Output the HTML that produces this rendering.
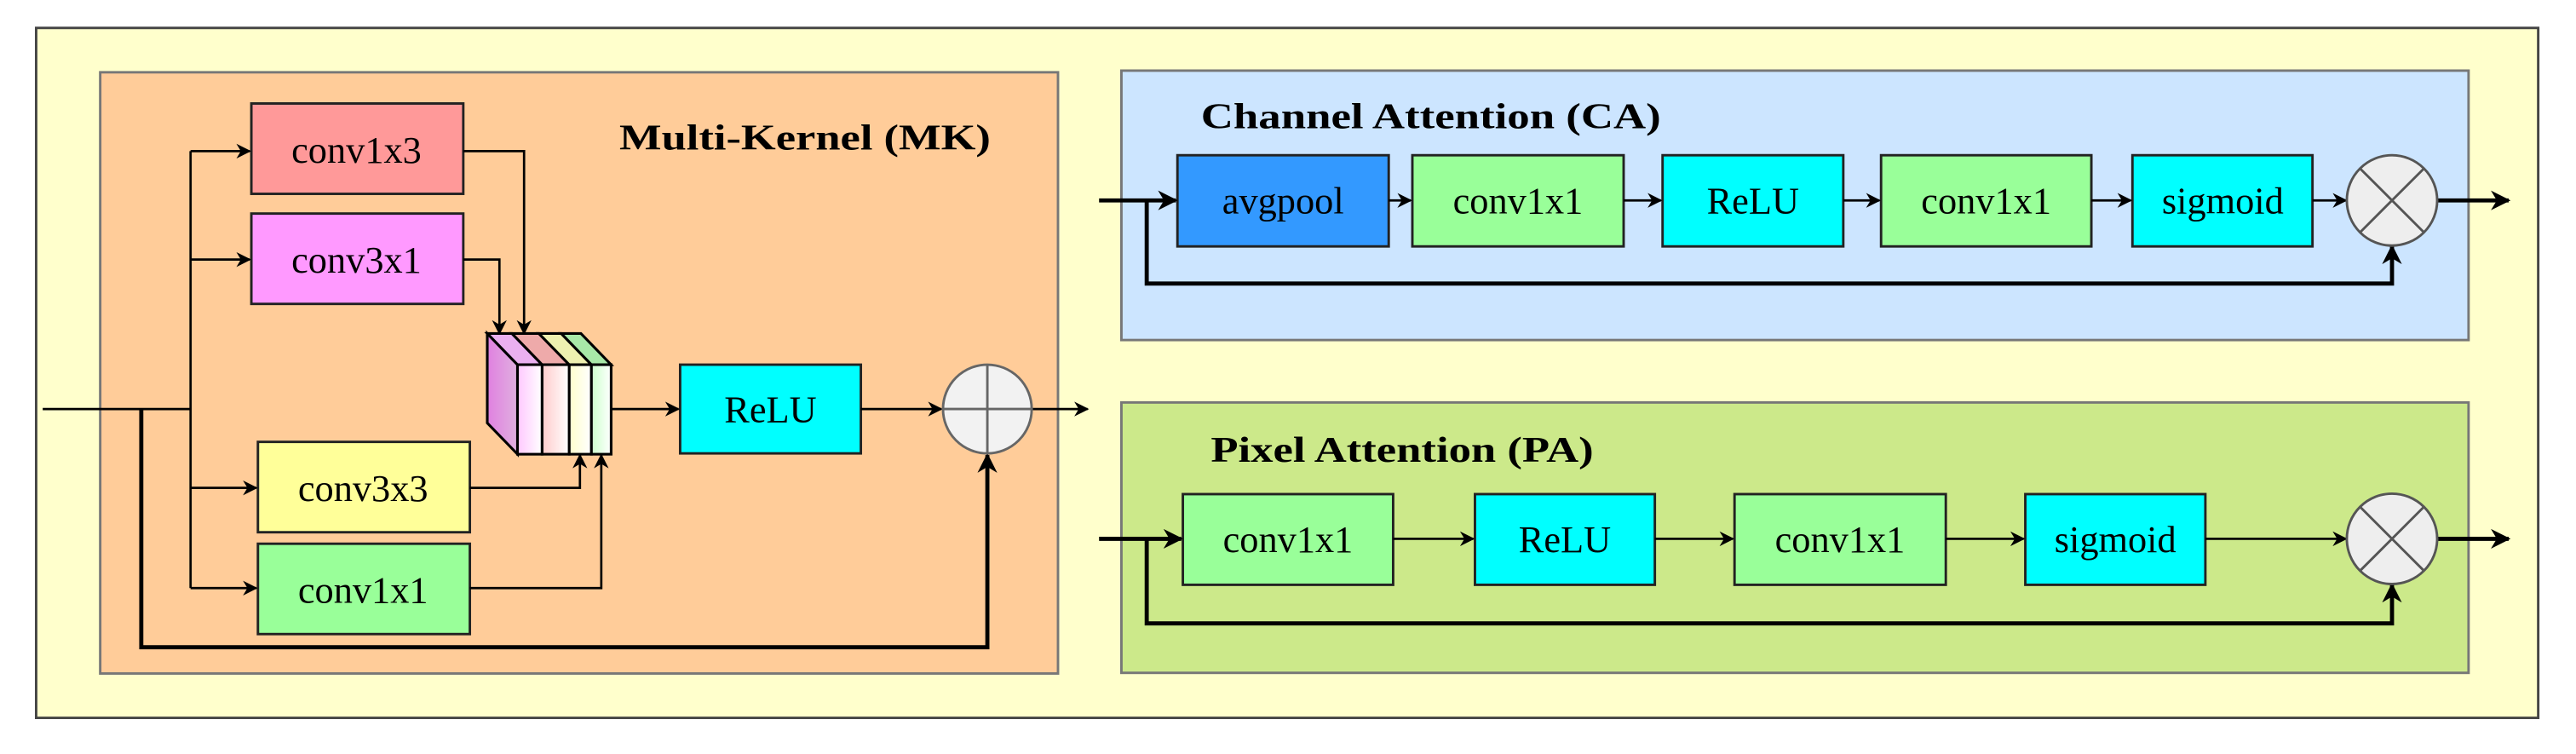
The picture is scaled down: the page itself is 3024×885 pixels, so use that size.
<!DOCTYPE html>
<html><head><meta charset="utf-8"><style>html,body{margin:0;padding:0;background:#fff}svg{display:block}</style></head>
<body>
<svg width="3024" height="885" viewBox="0 0 1568 459" preserveAspectRatio="none" xmlns="http://www.w3.org/2000/svg" font-family="Liberation Serif, serif">
<defs>
<marker id="a" viewBox="0 0 10 10" refX="9" refY="5" markerWidth="9" markerHeight="9" markerUnits="userSpaceOnUse" orient="auto"><path d="M0,0 L10,5 L0,10 L3,5 z" fill="#000"/></marker>
<marker id="b" viewBox="0 0 10 10" refX="9" refY="5" markerWidth="12" markerHeight="12" markerUnits="userSpaceOnUse" orient="auto"><path d="M0,0 L10,5 L0,10 L3,5 z" fill="#000"/></marker>
<linearGradient id="g1" x1="0" x2="1"><stop offset="0" stop-color="#ffc8ff"/><stop offset="1" stop-color="#fff"/></linearGradient>
<linearGradient id="g2" x1="0" x2="1"><stop offset="0" stop-color="#ffcccc"/><stop offset="1" stop-color="#fff"/></linearGradient>
<linearGradient id="g3" x1="0" x2="1"><stop offset="0" stop-color="#ffffcc"/><stop offset="1" stop-color="#fff"/></linearGradient>
<linearGradient id="g4" x1="0" x2="1"><stop offset="0" stop-color="#ccffcc"/><stop offset="1" stop-color="#fff"/></linearGradient>
<linearGradient id="g5" x1="0" x2="1"><stop offset="0" stop-color="#e080e0"/><stop offset="1" stop-color="#e0b0e0"/></linearGradient>
</defs>
<rect x="22" y="17" width="1523" height="420" fill="#ffffcc" stroke="#444" stroke-width="1.5"/>
<!-- MK -->
<rect x="61" y="44" width="583" height="366" fill="#ffcc99" stroke="#777" stroke-width="1.5"/>
<text x="377" y="91" font-size="22" font-weight="bold" textLength="226" lengthAdjust="spacingAndGlyphs">Multi-Kernel (MK)</text>
<g stroke="#222" stroke-width="1.5">
<rect x="153" y="63" width="129" height="55" fill="#ff9999"/>
<rect x="153" y="130" width="129" height="55" fill="#ff99ff"/>
<rect x="157" y="269" width="129" height="55" fill="#ffff99"/>
<rect x="157" y="331" width="129" height="55" fill="#99ff99"/>
<rect x="414" y="222" width="110" height="54" fill="#00ffff"/>
</g>
<g font-size="23" text-anchor="middle">
<text x="217" y="99">conv1x3</text>
<text x="217" y="166">conv3x1</text>
<text x="221" y="305">conv3x3</text>
<text x="221" y="367">conv1x1</text>
<text x="469" y="257">ReLU</text>
</g>
<g fill="none" stroke="#000" stroke-width="1.4">
<path d="M26,249 H116"/>
<path d="M116,92 V358"/>
<path d="M116,92 H152" marker-end="url(#a)"/>
<path d="M116,158 H152" marker-end="url(#a)"/>
<path d="M116,297 H156" marker-end="url(#a)"/>
<path d="M116,358 H156" marker-end="url(#a)"/>
<path d="M282,92 H319 V203" marker-end="url(#a)"/>
<path d="M282,158 H304 V203" marker-end="url(#a)"/>
<path d="M286,297 H353 V277" marker-end="url(#a)"/>
<path d="M286,358 H366 V277" marker-end="url(#a)"/>
<path d="M372,249 H413" marker-end="url(#a)"/>
<path d="M524,249 H573" marker-end="url(#a)"/>
<path d="M628,249 H662" marker-end="url(#a)"/>
</g>
<path d="M86,249 V394 H601 V277" fill="none" stroke="#000" stroke-width="2.5" marker-end="url(#b)"/>
<!-- concat block -->
<g stroke="#000" stroke-width="1.6">
<polygon points="296.6,203 315,222 315,276.5 296.6,257.5" fill="url(#g5)"/>
<polygon points="296.6,203 311.6,203 330,222 315,222" fill="#eab0f0"/>
<polygon points="311.6,203 328,203 346.5,222 330,222" fill="#eeaaaa"/>
<polygon points="328,203 341.6,203 360,222 346.5,222" fill="#eef0b0"/>
<polygon points="341.6,203 353.6,203 372,222 360,222" fill="#a8e8a8"/>
<rect x="315" y="222" width="15" height="54.5" fill="url(#g1)"/>
<rect x="330" y="222" width="16.5" height="54.5" fill="url(#g2)"/>
<rect x="346.5" y="222" width="13.5" height="54.5" fill="url(#g3)"/>
<rect x="360" y="222" width="12" height="54.5" fill="url(#g4)"/>
</g>
<g stroke="#666" stroke-width="1.5">
<circle cx="601" cy="249" r="27" fill="#f2f2f2"/>
<path d="M574,249 H628 M601,222 V276"/>
</g>
<!-- CA -->
<rect x="682.6" y="43" width="820" height="164" fill="#cce5ff" stroke="#777" stroke-width="1.5"/>
<text x="731" y="78" font-size="22" font-weight="bold" textLength="280" lengthAdjust="spacingAndGlyphs">Channel Attention (CA)</text>
<!-- PA -->
<rect x="682.6" y="245" width="820" height="164.6" fill="#cce98a" stroke="#777" stroke-width="1.5"/>
<text x="737" y="281" font-size="22" font-weight="bold" textLength="233" lengthAdjust="spacingAndGlyphs">Pixel Attention (PA)</text>
<g stroke="#222" stroke-width="1.5">
<rect x="716.7" y="94.5" width="128.6" height="55.5" fill="#3399ff"/>
<rect x="859.7" y="94.5" width="128.6" height="55.5" fill="#99ff99"/>
<rect x="1012" y="94.5" width="110" height="55.5" fill="#00ffff"/>
<rect x="1145" y="94.5" width="128" height="55.5" fill="#99ff99"/>
<rect x="1298" y="94.5" width="109.6" height="55.5" fill="#00ffff"/>
<rect x="720" y="300.8" width="128" height="55.2" fill="#99ff99"/>
<rect x="897.8" y="300.8" width="109.5" height="55.2" fill="#00ffff"/>
<rect x="1055.8" y="300.8" width="128.6" height="55.2" fill="#99ff99"/>
<rect x="1232.8" y="300.8" width="109.6" height="55.2" fill="#00ffff"/>
</g>
<g font-size="23" text-anchor="middle">
<text x="781" y="130">avgpool</text>
<text x="924" y="130">conv1x1</text>
<text x="1067" y="130">ReLU</text>
<text x="1209" y="130">conv1x1</text>
<text x="1353" y="130">sigmoid</text>
<text x="784" y="336">conv1x1</text>
<text x="952.5" y="336">ReLU</text>
<text x="1120" y="336">conv1x1</text>
<text x="1287.6" y="336">sigmoid</text>
</g>
<g fill="none" stroke="#000" stroke-width="1.4">
<path d="M845.3,122 H858.7" marker-end="url(#a)"/>
<path d="M988.3,122 H1011" marker-end="url(#a)"/>
<path d="M1122,122 H1144" marker-end="url(#a)"/>
<path d="M1273,122 H1297" marker-end="url(#a)"/>
<path d="M1407.6,122 H1428" marker-end="url(#a)"/>
<path d="M848,328 H896.8" marker-end="url(#a)"/>
<path d="M1007.3,328 H1054.8" marker-end="url(#a)"/>
<path d="M1184.4,328 H1231.8" marker-end="url(#a)"/>
<path d="M1342.4,328 H1428" marker-end="url(#a)"/>
</g>
<g fill="none" stroke="#000" stroke-width="2.5">
<path d="M669,122 H715.7" marker-end="url(#b)"/>
<path d="M698,122 V172.6 H1456 V150" marker-end="url(#b)"/>
<path d="M1484,122 H1527" marker-end="url(#b)"/>
<path d="M669,328 H719" marker-end="url(#b)"/>
<path d="M698,328 V379.5 H1456 V356" marker-end="url(#b)"/>
<path d="M1484,328 H1527" marker-end="url(#b)"/>
</g>
<g stroke="#555" stroke-width="1.5">
<circle cx="1456" cy="122" r="27.5" fill="#eeeeee"/>
<path d="M1437,103 L1475,141 M1475,103 L1437,141"/>
<circle cx="1456" cy="328" r="27.5" fill="#eeeeee"/>
<path d="M1437,309 L1475,347 M1475,309 L1437,347"/>
</g>
</svg>
</body></html>
